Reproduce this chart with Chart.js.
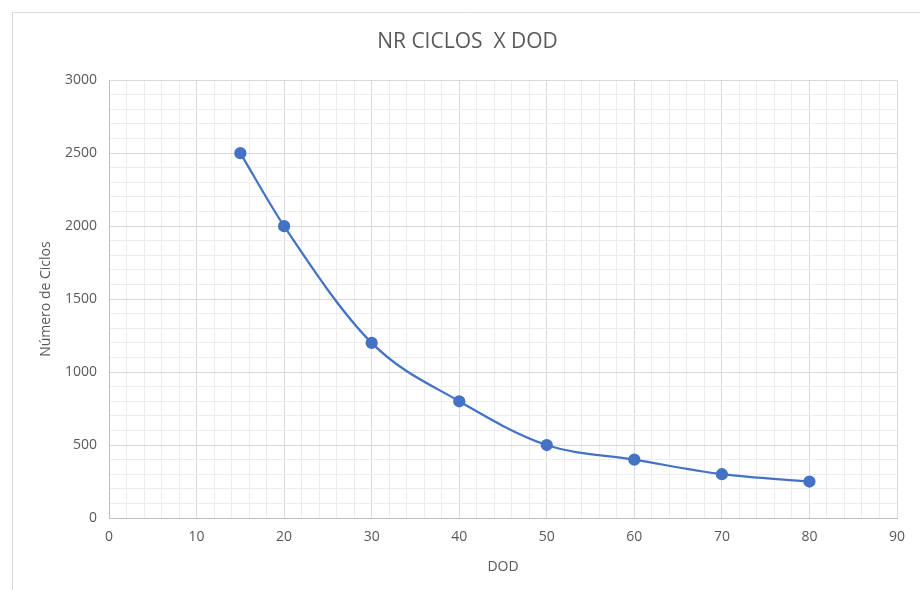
<!DOCTYPE html>
<html>
<head>
<meta charset="utf-8">
<script src="https://cdn.jsdelivr.net/npm/chart.js@4/dist/chart.umd.min.js"></script>
<style>
  html, body { margin: 0; padding: 0; background: #ffffff; }
  #wrap { width: 920px; height: 590px; position: relative; }
</style>
</head>
<body>
<div id="wrap"><canvas id="grafico" width="920" height="590"></canvas></div>
<script>
// dati
const dodValues = [15, 20, 30, 40, 50, 60, 70, 80];
const ciclosValues = [2500, 2000, 1200, 800, 500, 400, 300, 250];

const chartTitle = "NR CICLOS  X DOD";
const xTitle = "DOD";
const yTitle = "Número de Ciclos";

const grigioTesto = "#595959";
const blu = "#4472C4";

// cornice del grafico (bordo in alto e a sinistra)
const cornice = {
  id: "cornice",
  beforeDraw(chart) {
    const ctx = chart.ctx;
    ctx.save();
    ctx.strokeStyle = "#d9d9d9";
    ctx.lineWidth = 1;
    ctx.beginPath();
    ctx.moveTo(12.5, 590);
    ctx.lineTo(12.5, 12.5);
    ctx.lineTo(920, 12.5);
    ctx.stroke();
    ctx.restore();
  }
};

const points = dodValues.map((x, i) => ({ x: x, y: ciclosValues[i] }));

new Chart("grafico", {
  type: "scatter",
  data: {
    datasets: [{
      data: points,
      showLine: true,
      borderColor: blu,
      backgroundColor: blu,
      borderWidth: 2.25,
      pointRadius: 5,
      pointHoverRadius: 5,
      cubicInterpolationMode: "monotone"
    }]
  },
  options: {
    responsive: false,
    animation: false,
    events: [],
    layout: { padding: { left: 38, right: 23, top: 0, bottom: 0 } },
    plugins: {
      legend: { display: false },
      tooltip: { enabled: false },
      title: {
        display: true,
        text: chartTitle,
        color: grigioTesto,
        font: { family: "Open Sans", size: 21, weight: "normal" },
        padding: { top: 29, bottom: 26 }
      }
    },
    scales: {
      x: {
        type: "linear",
        min: 0,
        max: 90,
        ticks: {
          stepSize: 2,
          autoSkip: false,
          maxRotation: 0,
          color: grigioTesto,
          font: { family: "Open Sans", size: 14 },
          padding: 11,
          callback: v => (v % 10 === 0 ? v : "")
        },
        grid: {
          drawTicks: false,
          color: c => (c.tick.value % 10 === 0 ? "#d9d9d9" : "#ededed"),
          lineWidth: 1
        },
        border: { color: "#bfbfbf", width: 1 },
        title: {
          display: true,
          text: xTitle,
          color: grigioTesto,
          font: { family: "Open Sans", size: 14 },
          padding: { top: 4, bottom: 15 }
        },
        afterFit: s => { s.height = 72; }
      },
      y: {
        min: 0,
        max: 3000,
        ticks: {
          stepSize: 100,
          autoSkip: false,
          color: grigioTesto,
          font: { family: "Open Sans", size: 14 },
          padding: 12,
          callback: v => (v % 500 === 0 ? v : "")
        },
        grid: {
          drawTicks: false,
          color: c => (c.tick.value % 500 === 0 ? "#d9d9d9" : "#ededed"),
          lineWidth: 1
        },
        border: { color: "#bfbfbf", width: 1 },
        title: {
          display: true,
          text: yTitle,
          color: grigioTesto,
          font: { family: "Open Sans", size: 14 },
          padding: { top: 0, bottom: 6 }
        },
        afterFit: s => { s.width = 71; }
      }
    }
  },
  plugins: [cornice]
});
</script>
</body>
</html>
